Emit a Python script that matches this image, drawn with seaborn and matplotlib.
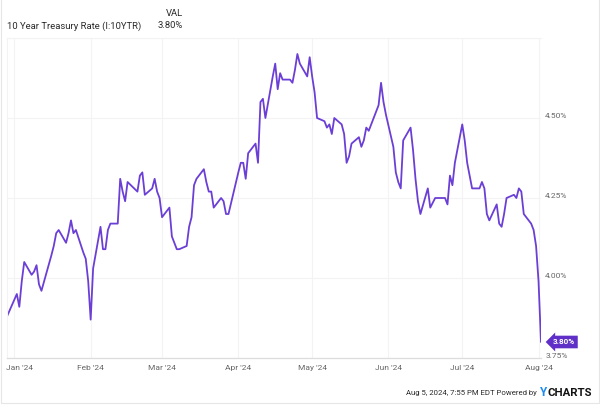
import pandas as pd
import matplotlib.pyplot as plt
import matplotlib.transforms as mtransforms
from matplotlib.patches import Rectangle
import seaborn as sns

# 10 year treasury daily closes
dates = [
    '2023-12-29', '2024-01-02', '2024-01-03', '2024-01-04', '2024-01-05', '2024-01-08',
    '2024-01-09', '2024-01-10', '2024-01-11', '2024-01-12', '2024-01-16', '2024-01-17',
    '2024-01-18', '2024-01-19', '2024-01-22', '2024-01-23', '2024-01-24', '2024-01-25',
    '2024-01-26', '2024-01-29', '2024-01-30', '2024-01-31', '2024-02-01', '2024-02-02',
    '2024-02-05', '2024-02-06', '2024-02-07', '2024-02-08', '2024-02-09', '2024-02-12',
    '2024-02-13', '2024-02-14', '2024-02-15', '2024-02-16', '2024-02-20', '2024-02-21',
    '2024-02-22', '2024-02-23', '2024-02-26', '2024-02-27', '2024-02-28', '2024-02-29',
    '2024-03-01', '2024-03-04', '2024-03-05', '2024-03-06', '2024-03-07', '2024-03-08',
    '2024-03-11', '2024-03-12', '2024-03-13', '2024-03-14', '2024-03-15', '2024-03-18',
    '2024-03-19', '2024-03-20', '2024-03-21', '2024-03-22', '2024-03-25', '2024-03-26',
    '2024-03-27', '2024-03-28', '2024-04-01', '2024-04-02', '2024-04-03', '2024-04-04',
    '2024-04-05', '2024-04-08', '2024-04-09', '2024-04-10', '2024-04-11', '2024-04-12',
    '2024-04-15', '2024-04-16', '2024-04-17', '2024-04-18', '2024-04-19', '2024-04-22',
    '2024-04-23', '2024-04-24', '2024-04-25', '2024-04-26', '2024-04-29', '2024-04-30',
    '2024-05-01', '2024-05-02', '2024-05-03', '2024-05-06', '2024-05-07', '2024-05-08',
    '2024-05-09', '2024-05-10', '2024-05-13', '2024-05-14', '2024-05-15', '2024-05-16',
    '2024-05-17', '2024-05-20', '2024-05-21', '2024-05-22', '2024-05-23', '2024-05-24',
    '2024-05-28', '2024-05-29', '2024-05-30', '2024-05-31', '2024-06-03', '2024-06-04',
    '2024-06-05', '2024-06-06', '2024-06-07', '2024-06-10', '2024-06-11', '2024-06-12',
    '2024-06-13', '2024-06-14', '2024-06-17', '2024-06-18', '2024-06-20', '2024-06-21',
    '2024-06-24', '2024-06-25', '2024-06-26', '2024-06-27', '2024-06-28', '2024-07-01',
    '2024-07-02', '2024-07-03', '2024-07-05', '2024-07-08', '2024-07-09', '2024-07-10',
    '2024-07-11', '2024-07-12', '2024-07-15', '2024-07-16', '2024-07-17', '2024-07-18',
    '2024-07-19', '2024-07-22', '2024-07-23', '2024-07-24', '2024-07-25', '2024-07-26',
    '2024-07-29', '2024-07-30', '2024-07-31', '2024-08-01', '2024-08-02',
]
rates = [
    3.88, 3.95, 3.91, 3.99, 4.05, 4.01,
    4.02, 4.04, 3.98, 3.96, 4.07, 4.10,
    4.14, 4.15, 4.11, 4.14, 4.18, 4.14,
    4.15, 4.08, 4.06, 3.99, 3.87, 4.03,
    4.16, 4.09, 4.09, 4.15, 4.17, 4.17,
    4.31, 4.27, 4.24, 4.30, 4.27, 4.32,
    4.33, 4.26, 4.28, 4.31, 4.27, 4.25,
    4.19, 4.22, 4.13, 4.11, 4.09, 4.09,
    4.10, 4.16, 4.19, 4.29, 4.31, 4.34,
    4.30, 4.27, 4.27, 4.22, 4.25, 4.24,
    4.20, 4.20, 4.33, 4.36, 4.36, 4.31,
    4.39, 4.42, 4.36, 4.55, 4.56, 4.50,
    4.63, 4.67, 4.59, 4.64, 4.62, 4.62,
    4.61, 4.65, 4.70, 4.67, 4.63, 4.69,
    4.63, 4.58, 4.50, 4.49, 4.47, 4.48,
    4.45, 4.50, 4.48, 4.45, 4.36, 4.38,
    4.42, 4.44, 4.41, 4.43, 4.47, 4.46,
    4.54, 4.61, 4.55, 4.51, 4.41, 4.33,
    4.30, 4.28, 4.43, 4.47, 4.40, 4.31,
    4.24, 4.20, 4.28, 4.22, 4.25, 4.25,
    4.25, 4.23, 4.32, 4.29, 4.36, 4.48,
    4.43, 4.36, 4.28, 4.28, 4.30, 4.28,
    4.20, 4.18, 4.23, 4.17, 4.16, 4.20,
    4.25, 4.26, 4.25, 4.28, 4.27, 4.20,
    4.17, 4.15, 4.10, 3.99, 3.80,
]
yticks = [3.75, 4.00, 4.25, 4.50]
month_ticks = ['2024-01-01', '2024-02-01', '2024-03-01', '2024-04-01',
               '2024-05-01', '2024-06-01', '2024-07-01', '2024-08-01']
month_labels = ["Jan '24", "Feb '24", "Mar '24", "Apr '24",
                "May '24", "Jun '24", "Jul '24", "Aug '24"]

df = pd.DataFrame({'Date': pd.to_datetime(dates), 'Rate': rates})

sns.set_theme(style='white')
plt.rcParams['font.family'] = ['Roboto', 'DejaVu Sans']

purple = '#6b3fd6'
grid_c = '#f3f3f3'
tick_c = '#666666'

fig = plt.figure(figsize=(6, 4.07), dpi=100)
W, H = 600, 407
ax = fig.add_axes([7 / W, 1 - 358 / H, 534 / W, 320 / H])

sns.lineplot(data=df, x='Date', y='Rate', ax=ax, color=purple, linewidth=1.3)

ax.set_xlim(df['Date'].iloc[0], df['Date'].iloc[-1])
ax.set_ylim(3.75, 4.75)
ax.set_xlabel('')
ax.set_ylabel('')

# y axis on the right
ax.yaxis.tick_right()
ax.set_yticks(yticks)
ax.set_yticklabels([f'{v:.2f}%' for v in yticks])
ax.set_xticks(pd.to_datetime(month_ticks))
ax.set_xticklabels(month_labels)
ax.tick_params(axis='both', length=0, labelsize=6, labelcolor=tick_c)
ax.tick_params(axis='y', pad=3)
ax.tick_params(axis='x', pad=5)
for lab in ax.get_yticklabels():
    lab.set_transform(lab.get_transform() + mtransforms.ScaledTranslation(0, 3 / 100, fig.dpi_scale_trans))
first = ax.get_xticklabels()[0]
first.set_transform(first.get_transform() + mtransforms.ScaledTranslation(5 / 100, 0, fig.dpi_scale_trans))

ax.grid(True, color=grid_c, linewidth=0.8)
ax.axhline(4.75, color=grid_c, linewidth=0.8)
for side in ['left', 'top']:
    ax.spines[side].set_color(grid_c)
    ax.spines[side].set_linewidth(0.8)
ax.spines['right'].set_visible(False)
ax.spines['bottom'].set_color('#dddddd')
ax.spines['bottom'].set_linewidth(0.9)

# last value tag
last_d, last_v = df['Date'].iloc[-1], df['Rate'].iloc[-1]
ax.annotate(f'{last_v:.2f}%', xy=(last_d, last_v), xytext=(8.5, 0), textcoords='offset points',
            ha='left', va='center', fontsize=5.8, fontweight='bold', color='white',
            bbox=dict(boxstyle='larrow,pad=0.35', fc='#5f2fc8', ec='none'),
            annotation_clip=False)

# header
fig.text(7 / W, 1 - 26 / H, '10 Year Treasury Rate (I:10YTR)', fontsize=6.8,
         color='#2b2b2b', va='center', ha='left')
fig.text(183 / W, 1 - 14 / H, 'VAL', fontsize=6.8, color='#2b2b2b', va='center', ha='right')
fig.text(183 / W, 1 - 26 / H, f'{last_v:.2f}%', fontsize=6.8, color='#2b2b2b',
         va='center', ha='right')

# footer
fig.text(537 / W, 1 - 393 / H, 'Aug 5, 2024, 7:55 PM EDT Powered by', fontsize=5.6,
         color='#2b2b2b', va='center', ha='right')
fig.text(540 / W, 1 - 393 / H, 'Y', fontsize=8.4, fontweight='bold', color='#1c8cf2',
         va='center', ha='left')
fig.text(548 / W, 1 - 393 / H, 'CHARTS', fontsize=8.2, fontweight='bold', color='#111111',
         va='center', ha='left')

fig.patches.append(Rectangle((0.5 / W, 4 / H), 598.5 / W, 1, transform=fig.transFigure,
                             fill=False, edgecolor='#e6e6e6', linewidth=0.8))

fig.savefig('out.png', dpi=100)
